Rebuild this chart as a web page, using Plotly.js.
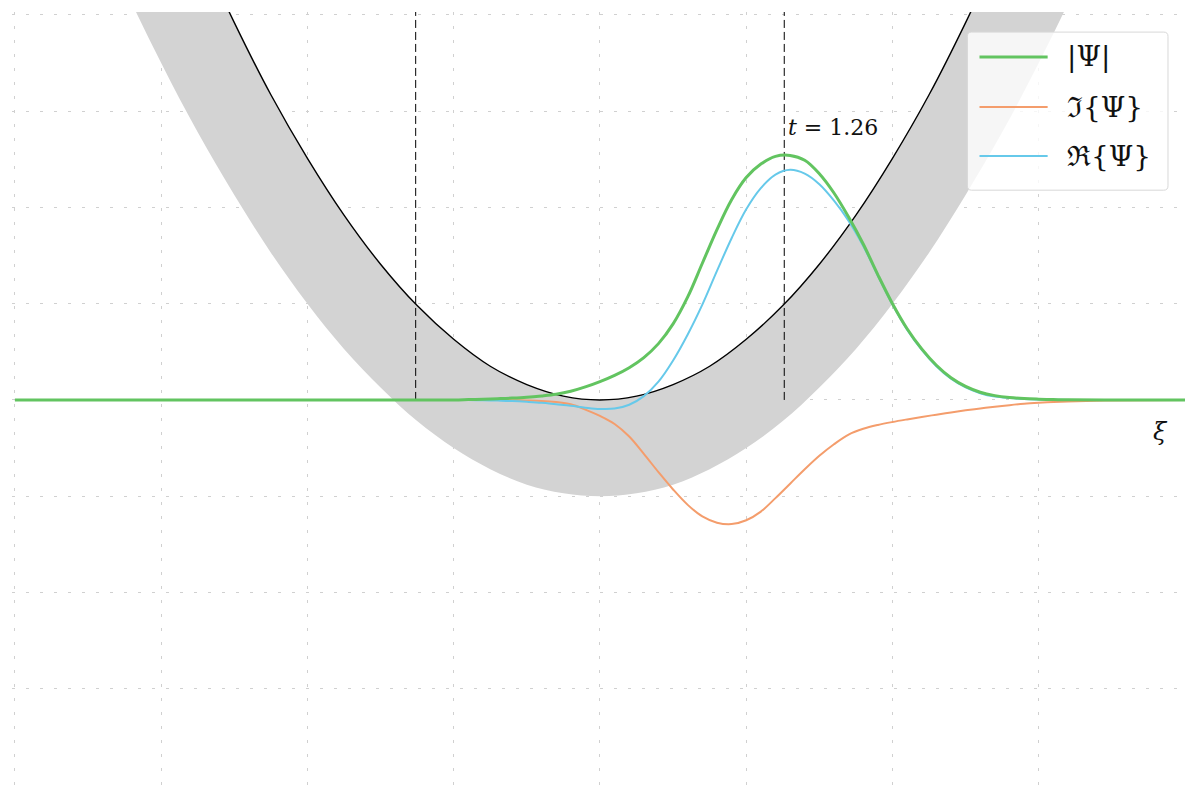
<!DOCTYPE html>
<html>
<head>
<meta charset="utf-8">
<script src="https://cdn.plot.ly/plotly-3.0.1.min.js"></script>
<style>html,body{margin:0;padding:0;background:#fff;}#chart{width:1200px;height:800px;}</style>
</head>
<body>
<div id="chart"></div>
<script>
// ---- data ----
const tValue = 1.26;

// potential band: common xi grid, upper (black parabola) and lower band edge
const xiPot = [-3.5,-3.25,-3,-2.75,-2.5,-2.25,-2,-1.75,-1.5,-1.25,-1,-0.75,-0.5,-0.25,0,0.25,0.5,0.75,1,1.25,1.5,1.75,2,2.25,2.5,2.75,3,3.25,3.5];
const potUpper = [7.68,6.62,5.64,4.74,3.92,3.17,2.51,1.92,1.41,0.98,0.63,0.35,0.16,0.04,0,0.04,0.16,0.35,0.63,0.98,1.41,1.92,2.51,3.17,3.92,4.74,5.64,6.62,7.68];
const potLower = [5.13,4.28,3.5,2.78,2.13,1.53,1.0,0.53,0.13,-0.22,-0.5,-0.72,-0.88,-0.97,-1,-0.97,-0.88,-0.72,-0.5,-0.22,0.13,0.53,1.0,1.53,2.13,2.78,3.5,4.28,5.13];

// wave function sampled on a common xi grid
const xiPsi = [-4,-1.5,-1.0,-0.9,-0.8,-0.7,-0.6,-0.5,-0.4,-0.3,-0.2,-0.1,0.0,0.1,0.2,0.3,0.4,0.5,0.6,0.7,0.8,0.9,1.0,1.1,1.2,1.3,1.4,1.5,1.6,1.7,1.8,1.9,2.0,2.1,2.2,2.3,2.4,2.5,2.6,2.7,2.8,2.9,3.0,3.1,3.2,3.45,4.0];
const absPsi = [0,0,0,0.004,0.008,0.013,0.019,0.028,0.042,0.06,0.09,0.135,0.19,0.255,0.335,0.44,0.585,0.79,1.07,1.42,1.77,2.08,2.31,2.45,2.53,2.54,2.49,2.35,2.15,1.90,1.62,1.30,1.00,0.74,0.53,0.36,0.23,0.14,0.08,0.045,0.025,0.014,0.008,0.004,0.002,0,0];
const imPsi = [0,0,0,0,0,0,-0.002,-0.005,-0.01,-0.022,-0.045,-0.1,-0.166,-0.25,-0.38,-0.56,-0.75,-0.93,-1.09,-1.21,-1.275,-1.29,-1.25,-1.16,-1.02,-0.87,-0.72,-0.58,-0.46,-0.36,-0.30,-0.26,-0.229,-0.202,-0.177,-0.153,-0.13,-0.108,-0.088,-0.07,-0.054,-0.04,-0.03,-0.022,-0.016,-0.007,0];
const rePsi = [0,0,0,0,-0.003,-0.007,-0.012,-0.02,-0.03,-0.045,-0.06,-0.08,-0.094,-0.09,-0.05,0.04,0.19,0.41,0.68,0.99,1.34,1.68,1.98,2.20,2.34,2.39,2.35,2.24,2.07,1.86,1.60,1.29,0.99,0.73,0.52,0.35,0.22,0.13,0.07,0.035,0.02,0.01,0.005,0.002,0,0,0];

const legendNames = ['|Ψ|', 'ℑ{Ψ}', 'ℜ{Ψ}'];
const colors = {abs:'#62c460', im:'#f49d6c', re:'#66c9ea'};

// ---- build traces ----
const bandX = xiPot.concat(xiPot.slice().reverse());
const bandY = potUpper.concat(potLower.slice().reverse());

const traces = [
  {x: bandX, y: bandY, type:'scatter', mode:'lines', fill:'toself', fillcolor:'#d3d3d3',
   line:{width:0, color:'rgba(0,0,0,0)', shape:'spline'}, showlegend:false, hoverinfo:'skip'},
  {x: xiPot, y: potUpper, type:'scatter', mode:'lines', line:{color:'#000', width:1.4, shape:'spline'}, showlegend:false},
  {x: [-tValue,-tValue], y:[0,4.5], type:'scatter', mode:'lines', line:{color:'#000', width:1, dash:'8px,4px'}, showlegend:false},
  {x: [tValue,tValue], y:[0,4.5], type:'scatter', mode:'lines', line:{color:'#000', width:1, dash:'8px,4px'}, showlegend:false},
  {x: xiPsi, y: imPsi, name: legendNames[1], type:'scatter', mode:'lines', line:{color:colors.im, width:2, shape:'spline'}, showlegend:false},
  {x: xiPsi, y: rePsi, name: legendNames[2], type:'scatter', mode:'lines', line:{color:colors.re, width:2, shape:'spline'}, showlegend:false},
  {x: xiPsi, y: absPsi, name: legendNames[0], type:'scatter', mode:'lines', line:{color:colors.abs, width:3, shape:'spline'}, showlegend:false}
];

const axisCommon = {dtick:1, tick0:0, showticklabels:false, ticks:'', zeroline:false, showline:false,
  showgrid:true, gridcolor:'#d0d0d0', gridwidth:1, griddash:'3px,11px', fixedrange:true};

// custom legend (paper coordinates)
const lgLeft = 0.8145, lgRight = 0.9855, lgTop = 0.974, lgBottom = 0.7695;
const rx = 0.0036, ry = 0.0055;
const boxPath = `M${lgLeft+rx},${lgTop} L${lgRight-rx},${lgTop} Q${lgRight},${lgTop} ${lgRight},${lgTop-ry} ` +
  `L${lgRight},${lgBottom+ry} Q${lgRight},${lgBottom} ${lgRight-rx},${lgBottom} L${lgLeft+rx},${lgBottom} ` +
  `Q${lgLeft},${lgBottom} ${lgLeft},${lgBottom+ry} L${lgLeft},${lgTop-ry} Q${lgLeft},${lgTop} ${lgLeft+rx},${lgTop} Z`;
const itemY = [0.9418, 0.877, 0.8136];
const itemColors = [colors.abs, colors.im, colors.re];
const itemWidths = [3, 2, 2];

const shapes = [{type:'path', xref:'paper', yref:'paper', path: boxPath,
  fillcolor:'rgba(255,255,255,0.8)', line:{color:'#d8d8d8', width:1}, layer:'above'}];
const annotations = [
  {x: tValue, y: 2.83, xref:'x', yref:'y', text:'<i>t</i> = ' + tValue.toFixed(2), showarrow:false,
   xanchor:'left', yanchor:'middle', xshift:2, font:{family:'DejaVu Serif, Liberation Serif, serif', size:22, color:'#111'}},
  {x: 3.83, y: -0.33, xref:'x', yref:'y', text:'<i>ξ</i>', showarrow:false, xanchor:'center', yanchor:'middle',
   font:{family:'DejaVu Serif, Liberation Serif, serif', size:24, color:'#111'}}
];
legendNames.forEach((nm, i) => {
  shapes.push({type:'line', xref:'paper', yref:'paper', x0:0.8248, x1:0.8829, y0:itemY[i], y1:itemY[i],
    line:{color:itemColors[i], width:itemWidths[i]}, layer:'above'});
  annotations.push({x:0.8975, y:itemY[i], xref:'paper', yref:'paper', text:nm, showarrow:false,
    xanchor:'left', yanchor:'middle', font:{family:'DejaVu Serif, Liberation Serif, serif', size:28, color:'#111'}});
});

const layout = {
  width:1200, height:800,
  margin:{l:12, r:15, t:12, b:15},
  paper_bgcolor:'#fff', plot_bgcolor:'#fff',
  xaxis: Object.assign({range:[-4.02, 4.0]}, axisCommon),
  yaxis: Object.assign({range:[-4.0, 4.03]}, axisCommon),
  showlegend:false,
  shapes: shapes,
  annotations: annotations
};

Plotly.newPlot('chart', traces, layout, {staticPlot:true, displayModeBar:false});
</script>
</body>
</html>
